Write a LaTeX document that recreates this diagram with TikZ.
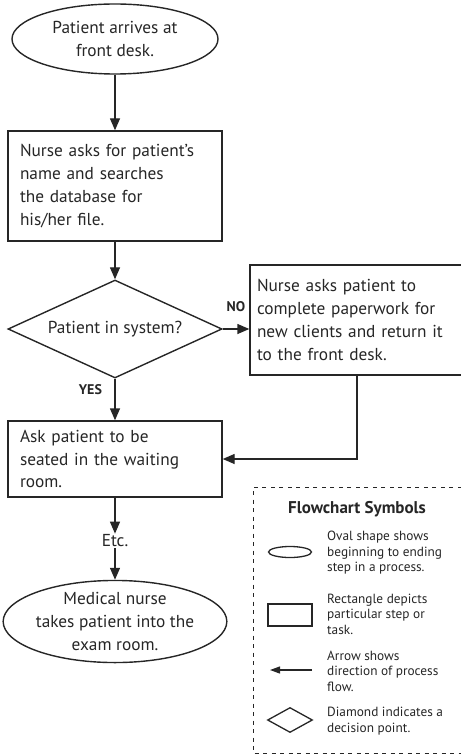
\documentclass[tikz,border=0pt]{standalone}
\usepackage{fontspec}
\setmainfont{PT Sans}
\usetikzlibrary{shapes.geometric,arrows.meta}
\newcommand\mainsize{\fontsize{17.3}{22.8}\selectfont}
\newcommand\keysize{\fontsize{13.3}{15.5}\selectfont}
\tikzset{
  oval/.style={draw,ellipse,line width=1.4pt,minimum width=206pt,minimum height=70pt,inner sep=0pt,align=center,font=\mainsize},
  taskbox/.style={draw,rectangle,line width=1.4pt,align=left,inner xsep=12pt,inner ysep=0pt,font=\mainsize},
  decision/.style={draw,diamond,line width=1.4pt,inner sep=0pt,shape aspect=2.2,minimum width=214pt,minimum height=98pt,font=\mainsize},
  flow/.style={-{Triangle[length=12pt,width=10pt]},line width=1.4pt},
  answer/.style={font=\fontsize{14}{16}\selectfont\bfseries},
  keyicon/.style={draw,line width=1.3pt,inner sep=0pt},
  keytext/.style={font=\keysize,align=left,anchor=west,inner sep=0pt},
}
\begin{document}
\begin{tikzpicture}[x=1pt,y=-1pt,color=black!85]
\useasboundingbox (0,0) rectangle (460,754);
\node[oval] (arrive) at (115,39) {Patient arrives at\\front desk.};
\node[taskbox,text width=190pt,minimum height=110pt] (search) at (115,186) {Nurse asks for patient’s\\name and searches\\the database for\\his/her file.};
\node[decision] (insys) at (115,329) {Patient in system?};
\node[taskbox,inner xsep=7pt,text width=206pt,minimum height=110pt] (paper) at (360,320) {Nurse asks patient to\\complete paperwork for\\new clients and return it\\to the front desk.};
\node[taskbox,text width=190pt,minimum height=76pt] (seat) at (115,459) {Ask patient to be\\seated in the waiting\\room.};
\node[font=\mainsize,inner sep=1pt] (etc) at (115,541) {Etc.};
\node[oval,minimum height=71pt] (exam) at (115,621.5) {Medical nurse\\takes patient into the\\exam room.};

\draw[flow] (arrive) -- (search);
\draw[flow] (search) -- (insys);
\draw[flow] (insys.east) -- node[answer,above=13pt] {NO} (insys.east -| paper.west);
\draw[flow] (insys.south) -- node[answer,pos=.25,left=9pt] {YES} (seat.north);
\draw[flow] ([xshift=-3pt]paper.south) |- (seat.east);
\draw[flow] (seat) -- (etc);
\draw[flow] (etc) -- (exam);

% legend
\draw[dashed,line width=.8pt,dash pattern=on 4pt off 4.5pt] (470,487) -- (253,487) -- (253,753) -- (470,753);
\node[font=\fontsize{17}{20}\selectfont\bfseries] (keytitle) at (357,509) {Flowchart Symbols};
\node[keyicon,ellipse,minimum width=43pt,minimum height=11pt] (keyoval) at (290,552) {};
\node[keytext] at (327,553) {Oval shape shows\\beginning to ending\\step in a process.};
\node[keyicon,rectangle,minimum width=44pt,minimum height=22pt] (keybox) at (290,615) {};
\node[keytext] at (327,614) {Rectangle depicts\\particular step or\\task.};
\coordinate (keyfrom) at (312,670);
\coordinate (keyto) at (270,670);
\draw[-{Triangle[length=10pt,width=7pt]},line width=1.2pt] (keyfrom) -- (keyto);
\node[keytext] at (327,671) {Arrow shows\\direction of process\\flow.};
\node[keyicon,diamond,minimum width=45pt,minimum height=25pt] (keydiamond) at (290,720) {};
\node[keytext] at (327,721) {Diamond indicates a\\decision point.};
\end{tikzpicture}
\end{document}
